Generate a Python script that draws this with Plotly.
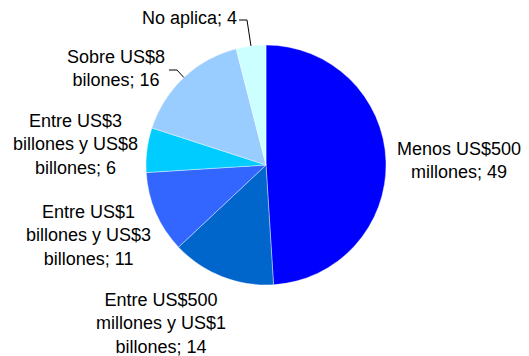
import math
import plotly.graph_objects as go

# Distribution of companies by size bracket (percent)
categories = [
    "Menos US$500 millones",
    "Entre US$500 millones y US$1 billones",
    "Entre US$1 billones y US$3 billones",
    "Entre US$3 billones y US$8 billones",
    "Sobre US$8 bilones",
    "No aplica",
]
values = [49, 14, 11, 6, 16, 4]
label_lines = [
    ["Menos US$500", "millones"],
    ["Entre US$500", "millones y US$1", "billones"],
    ["Entre US$1", "billones y US$3", "billones"],
    ["Entre US$3", "billones y US$8", "billones"],
    ["Sobre US$8", "bilones"],
    ["No aplica"],
]
colors = ["#0000FF", "#0066CC", "#3366FF", "#00CCFF", "#99CCFF", "#CCFFFF"]

W, H = 529, 356
CX, CY, R = 266, 165, 120  # pie centre and radius in pixels

# Label anchor points (pixels) and optional leader-line elbows
label_pos = [(459, 160), (161, 323), (88, 235), (75, 144), (116, 68), (189, 18)]
leader_elbow = [None, None, None, None, ((169, 70), (177, 70)), ((239, 20), (247, 20))]


def px_to_paper(x, y):
    return x / W, 1 - y / H


fig = go.Figure(
    go.Pie(
        labels=categories,
        values=values,
        sort=False,
        direction="clockwise",
        rotation=0,
        marker=dict(colors=colors, line=dict(color="white", width=0.4)),
        textinfo="none",
        hoverinfo="label+value",
        domain=dict(x=[(CX - R) / W, (CX + R) / W], y=[(H - CY - R) / H, (H - CY + R) / H]),
        showlegend=False,
    )
)

total = sum(values)
cum = 0
annotations = []
shapes = []
for i, v in enumerate(values):
    mid = (cum + v / 2) / total * 2 * math.pi
    cum += v
    text = "<br>".join(label_lines[i][:-1] + [f"{label_lines[i][-1]}; {v}"])
    ax, ay = px_to_paper(*label_pos[i])
    annotations.append(dict(
        x=ax, y=ay, xref="paper", yref="paper", text=text, showarrow=False,
        xanchor="center", yanchor="middle", align="center",
        font=dict(family="Liberation Sans, Arial, sans-serif", size=18, color="#000000"),
    ))
    if leader_elbow[i]:
        ex = CX + R * math.sin(mid)
        ey = CY - R * math.cos(mid)
        (x0, y0), (x1, y1) = leader_elbow[i]
        pts = [px_to_paper(x0, y0), px_to_paper(x1, y1), px_to_paper(ex, ey)]
        path = "M {} {} L {} {} L {} {}".format(*[c for p in pts for c in p])
        shapes.append(dict(type="path", path=path, xref="paper", yref="paper",
                           line=dict(color="#000000", width=1)))

fig.update_layout(
    width=W, height=H,
    margin=dict(l=0, r=0, t=0, b=0),
    paper_bgcolor="white",
    plot_bgcolor="white",
    annotations=annotations,
    shapes=shapes,
)

fig.write_html("out.html")
